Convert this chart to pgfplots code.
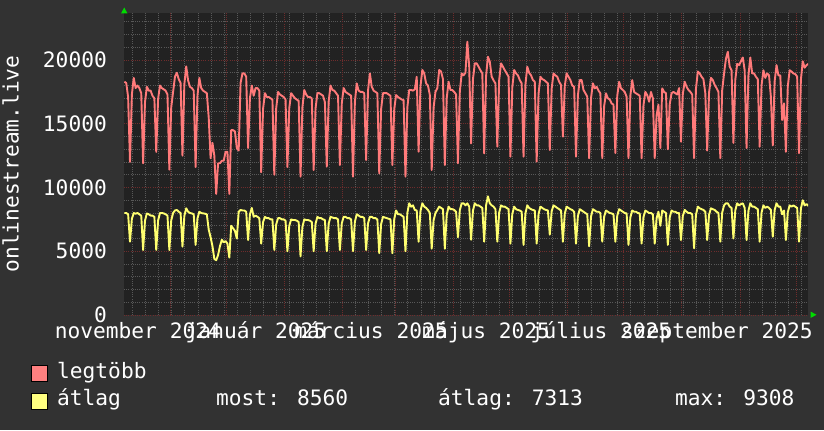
\documentclass[border=0pt]{standalone}
\usepackage{fontspec}
\setmainfont{DejaVu Sans Mono}
\usepackage{pgfplots}
\pgfplotsset{compat=1.18}
\usepackage{pgfplotstable}
\definecolor{bg}{RGB}{50,50,50}
\definecolor{canvas}{RGB}{34,34,34}
\definecolor{minorgrid}{RGB}{88,88,88}
\definecolor{majorgrid}{RGB}{110,44,44}
\definecolor{maxline}{RGB}{255,122,122}
\definecolor{avgline}{RGB}{255,255,112}
\definecolor{maxbox}{RGB}{255,128,128}
\definecolor{avgbox}{RGB}{255,255,128}
\definecolor{arrowgreen}{RGB}{0,220,0}
\pgfplotstableread{
d max avg
0 18300 8000
1 18200 8000
2 17100 7900
3 12000 5750
4 17280 7550
5 18600 8000
6 17800 7950
7 18000 8000
8 17800 7900
9 17400 7800
10 11900 5100
11 16700 7400
12 17900 7970
13 17600 7900
14 17600 7800
15 17200 7800
16 17000 7700
17 12800 5100
18 16960 7420
19 18000 8000
20 17800 8000
21 17700 7970
22 17600 7900
23 17300 7800
24 11400 5100
25 16280 7420
26 17500 8000
27 18700 8200
28 19000 8240
29 18500 8100
30 18200 8000
31 12500 5360
32 18100 7770
33 19500 8370
34 18400 8100
35 17900 8000
36 17800 7970
37 17600 7900
38 11600 5500
39 17200 7580
40 18600 8100
41 17800 8000
42 17600 7970
43 17500 7950
44 17400 7900
45 15500 6700
46 12300 6100
47 13500 5400
48 12500 4400
49 9500 4300
50 11900 4700
51 11900 5400
52 12100 5900
53 12100 5700
54 12800 5800
55 12800 5600
56 9500 4500
57 14500 7000
58 14500 6800
59 14400 6600
60 13100 6000
61 12900 8100
62 18200 8240
63 18950 8200
64 18950 8200
65 18700 8100
66 13100 5880
67 17020 7900
68 18000 8400
69 17200 7700
70 17800 7800
71 17800 7700
72 17600 7600
73 11200 5600
74 16160 7280
75 17400 7700
76 17100 7600
77 17100 7600
78 17000 7500
79 16900 7500
80 11000 5100
81 16200 7100
82 17500 7600
83 17300 7600
84 17200 7500
85 17100 7500
86 16900 7400
87 11600 5000
88 16240 7000
89 17400 7500
90 17200 7450
91 17000 7450
92 16900 7400
93 16800 7300
94 10850 4600
95 16290 6920
96 17650 7500
97 17300 7450
98 17100 7450
99 17100 7400
100 17000 7300
101 11370 5000
102 16190 7160
103 17400 7700
104 17400 7600
105 17300 7600
106 17200 7500
107 16700 7450
108 11630 5000
109 16730 7160
110 18000 7700
111 17650 7650
112 17600 7600
113 17400 7600
114 17200 7500
115 11760 5100
116 16590 7180
117 17800 7700
118 17500 7700
119 17400 7600
120 17300 7600
121 17200 7500
122 10850 5000
123 16710 7320
124 18170 7900
125 17600 7800
126 17500 7700
127 17500 7700
128 17400 7600
129 12160 5100
130 17590 7180
131 18950 7700
132 17900 7700
133 17600 7600
134 17500 7600
135 17400 7500
136 11110 4850
137 16140 7130
138 17400 7700
139 17400 7650
140 17400 7600
141 17300 7550
142 17200 7500
143 11760 4850
144 16150 7530
145 17250 8200
146 17100 7900
147 17000 7900
148 16900 7800
149 16860 7700
150 10850 5000
151 16290 8010
152 17650 8760
153 17650 8500
154 17600 8600
155 17700 8240
156 18690 8200
157 12810 5750
158 17940 8160
159 19220 8760
160 18950 8500
161 18170 8400
162 18000 8240
163 17250 8000
164 11370 5200
165 16270 7440
166 17500 8000
167 17800 8240
168 19220 8500
169 19100 8400
170 18500 8300
171 11760 5200
172 16990 7840
173 18300 8500
174 17650 8300
175 17650 8300
176 17500 8240
177 17300 8100
178 11900 6100
179 17540 8230
180 18950 8760
181 18800 8760
182 19000 8600
183 21440 8760
184 19480 8500
185 13460 5900
186 18480 8190
187 19740 8760
188 19740 8600
189 19480 8600
190 19200 8500
191 18950 8400
192 12680 5750
193 18740 8600
194 20260 9308
195 19870 8760
196 18690 8600
197 18400 8500
198 18170 8300
199 13200 5750
200 18430 8030
201 19740 8600
202 19480 8500
203 19200 8500
204 18950 8400
205 18700 8300
206 12420 5600
207 17860 7920
208 19220 8500
209 18950 8300
210 18800 8240
211 18430 8200
212 18170 8100
213 12420 5500
214 18070 7980
215 19480 8600
216 19000 8400
217 18800 8300
218 18430 8240
219 18300 8200
220 12030 5600
221 17360 7920
222 18690 8500
223 18500 8400
224 18430 8300
225 18300 8240
226 18170 8200
227 12940 6300
228 17750 8140
229 18950 8600
230 18800 8500
231 18690 8400
232 18300 8300
233 18040 8200
234 13990 5750
235 17960 7950
236 18950 8500
237 18690 8400
238 18430 8300
239 18000 8240
240 17910 8100
241 12420 5600
242 17230 7760
243 18430 8300
244 18430 8200
245 17650 8100
246 17400 8000
247 17120 7900
248 12300 5400
249 17000 7720
250 18170 8300
251 17780 8200
252 17900 8100
253 17600 8100
254 17390 8000
255 12300 5750
256 16370 7710
257 17390 8200
258 17000 8100
259 16900 8000
260 16600 7970
261 16500 7900
262 12700 5750
263 17180 7790
264 18300 8300
265 17780 8200
266 17650 8100
267 17500 8000
268 17120 7970
269 12300 5500
270 17200 7660
271 18430 8200
272 17500 8100
273 17390 8100
274 17300 8000
275 17200 7970
276 12300 5600
277 16460 7680
278 17500 8200
279 17250 8100
280 16730 8000
281 17500 8000
282 17000 7900
283 12300 5600
284 15660 7600
285 16500 8100
286 13100 7000
287 17780 8200
288 17500 8100
289 17400 8000
290 13000 5500
291 16520 7660
292 17400 8200
293 17500 8100
294 17400 8100
295 17300 8000
296 17800 8000
297 13600 5880
298 17360 7770
299 18300 8240
300 17900 8100
301 17650 8000
302 17500 8000
303 17300 7900
304 12300 5230
305 17740 7850
306 19100 8500
307 18950 8370
308 18690 8300
309 18500 8240
310 17390 8100
311 12900 5880
312 17460 7870
313 18600 8370
314 18430 8300
315 18040 8240
316 17800 8100
317 17500 8000
318 12300 5750
319 17620 8030
320 18950 8600
321 20100 8760
322 20650 8760
323 19480 8500
324 19200 8400
325 13500 6000
326 18460 8210
327 19700 8760
328 19600 8600
329 19900 8700
330 20200 8760
331 19200 8400
332 13100 5880
333 18780 8180
334 20200 8760
335 18950 8500
336 18950 8500
337 18690 8400
338 18500 8300
339 13200 5750
340 18000 8030
341 19200 8600
342 18600 8400
343 18950 8500
344 18800 8400
345 17100 8240
346 13300 6140
347 18340 8240
348 19600 8760
349 18800 8500
350 18800 8500
351 15300 7900
352 16600 8200
353 12800 5880
354 17920 8060
355 19200 8600
356 19100 8500
357 18950 8600
358 18900 8500
359 18700 8400
360 12700 5750
361 18460 8350
362 19900 9000
363 19400 8600
364 19600 8700
365 19700 8560
}\data
\newcommand{\rfont}{\fontsize{21.2bp}{25bp}\selectfont}
\begin{document}
\rfont
\begin{tikzpicture}[x=1bp,y=1bp]
\fill[bg] (0,0) rectangle (824,430);
\useasboundingbox (0,0) rectangle (824,430);
\begin{axis}[
  at={(124bp,115bp)}, anchor=south west,
  scale only axis, width=684bp, height=302bp,
  xmin=-0.2, xmax=364.8, ymin=0, ymax=23690,
  scaled x ticks=false, scaled y ticks=false,
  axis background/.style={fill=canvas},
  axis line style={draw=none},
  major tick length=0pt, minor tick length=0pt,
  xtick={7.2,70.2,131.6,193.0,254.3,316.2},
  xticklabels={november 2024,január 2025,március 2025,május 2025,július 2025,szeptember 2025},
  xmajorgrids=false,
  minor xtick={4.3,11.3,...,364},
  xminorgrids=true,
  extra x ticks={24.5,54.5,85.5,116.5,144.5,175.5,205.5,236.5,266.5,297.5,328.5,358.5},
  extra x tick labels={},
  extra x tick style={xmajorgrids=true, major tick length=0pt},
  ytick={0,5000,10000,15000,20000},
  yticklabel={\rfont\pgfmathprintnumber[assume math mode=true,1000 sep={},fixed,precision=0]{\tick}},
  minor ytick={1000,2000,3000,4000,6000,7000,8000,9000,11000,12000,13000,14000,16000,17000,18000,19000,21000,22000,23000},
  ymajorgrids=true, yminorgrids=true,
  minor grid style={minorgrid, line width=0.9bp, dash pattern=on 1bp off 1.2bp},
  major grid style={majorgrid, line width=0.9bp, dash pattern=on 1bp off 1.2bp},
  tick label style={font=\rfont, text=white, inner sep=0pt},
  xticklabel style={anchor=base, yshift=-23bp},
  yticklabel style={anchor=east, xshift=-17bp},
  clip=true,
]
\addplot[maxline, line width=1.9bp, line join=round, sharp plot, no marks] table[x=d, y=max] {\data};
\addplot[avgline, line width=1.9bp, line join=round, sharp plot, no marks] table[x=d, y=avg] {\data};
\end{axis}
% axis arrows
\fill[arrowgreen] (121,416.5) -- (127.5,416.5) -- (124.2,422.5) -- cycle;
\fill[arrowgreen] (810.5,112) -- (810.5,118.5) -- (816.5,115.2) -- cycle;
% y label
\node[rotate=90, anchor=base, text=white, inner sep=0pt] at (18.5,266) {onlinestream.live};
% legend
\fill[maxbox, draw=black, line width=0.8bp] (31.5,48.5) rectangle (47,64.5);
\fill[avgbox, draw=black, line width=0.8bp] (31.5,20.5) rectangle (47,36.5);
\node[anchor=base west, text=white, inner sep=0pt] at (57,52) {legtöbb};
\node[anchor=base west, text=white, inner sep=0pt] at (57,24.5) {átlag};
\node[anchor=base west, text=white, inner sep=0pt] at (216,24.5) {most: 8560};
\node[anchor=base west, text=white, inner sep=0pt] at (438,24.5) {átlag: 7313};
\node[anchor=base west, text=white, inner sep=0pt] at (675,24.5) {max: 9308};
\end{tikzpicture}
\end{document}
